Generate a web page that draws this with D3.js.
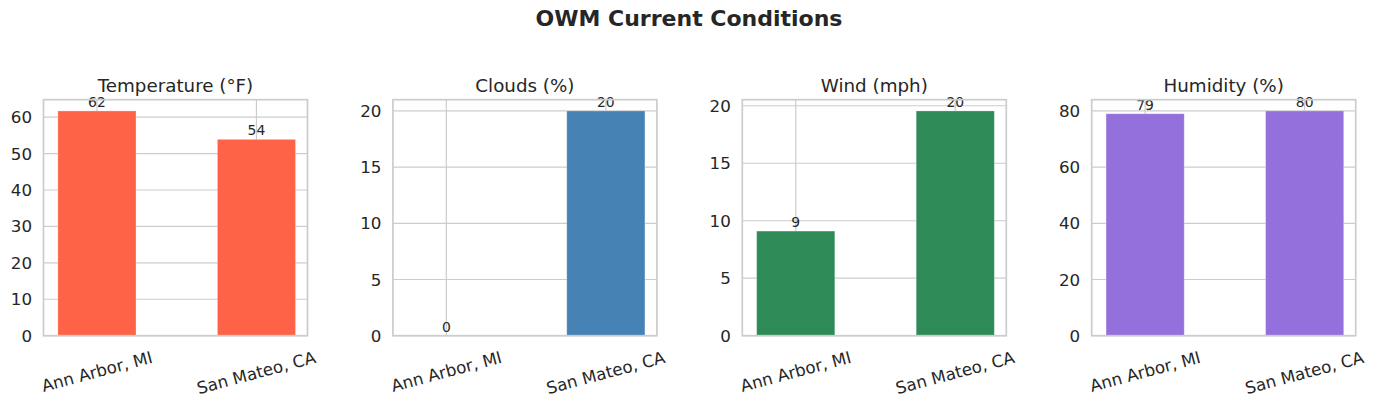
<!DOCTYPE html>
<html>
<head>
<meta charset="utf-8">
<script src="https://cdn.jsdelivr.net/npm/d3@7"></script>
<style>
  body { margin: 0; background: #fff; }
  svg text { font-family: "DejaVu Sans", sans-serif; fill: #262626; }
</style>
</head>
<body>
<svg id="chart" width="1374" height="408"></svg>
<script>
// ======== Data ========
const cities = ['Ann Arbor, MI', 'San Mateo, CA'];
const titles = ['Temperature (°F)', 'Clouds (%)', 'Wind (mph)', 'Humidity (%)'];
const temperature = [61.7, 53.9];
const clouds = [0, 20];
const wind = [9.1, 19.55];
const humidity = [79, 80];
const colors = ['tomato', 'steelblue', 'seagreen', 'mediumpurple'];
const ticks_temperature = [0, 10, 20, 30, 40, 50, 60];
const ticks_clouds = [0, 5, 10, 15, 20];
const ticks_wind = [0, 5, 10, 15, 20];
const ticks_humidity = [0, 20, 40, 60, 80];

const series = [temperature, clouds, wind, humidity];
const tick_sets = [ticks_temperature, ticks_clouds, ticks_wind, ticks_humidity];

// ======== Layout ========
const svg = d3.select('#chart');
const top_y = 99.7, bottom_y = 335.7, plot_w = 264;
const grid_color = '#cccccc';

svg.append('text')
    .attr('x', 689)
    .attr('y', 26)
    .attr('text-anchor', 'middle')
    .style('font-size', '22px')
    .style('font-weight', 'bold')
    .text('OWM Current Conditions');

series.forEach(function (values, i) {
    let left = 43.5 + i * 349.4;

    let x = d3.scaleLinear()
        .domain([-0.335, 1.32])
        .range([left, left + plot_w]);
    let y = d3.scaleLinear()
        .domain([0, d3.max(values) * 1.05])
        .range([bottom_y, top_y]);

    let g = svg.append('g');

    // grid (under bars)
    g.selectAll('.hgrid')
        .data(tick_sets[i])
        .enter()
        .append('line')
        .attr('x1', left).attr('x2', left + plot_w)
        .attr('y1', d => y(d)).attr('y2', d => y(d))
        .attr('stroke', grid_color)
        .attr('stroke-width', 1.2);
    g.selectAll('.vgrid')
        .data(cities)
        .enter()
        .append('line')
        .attr('x1', (d, j) => x(j)).attr('x2', (d, j) => x(j))
        .attr('y1', top_y).attr('y2', bottom_y)
        .attr('stroke', grid_color)
        .attr('stroke-width', 1.2);

    // bars
    let bw = 0.49;
    g.selectAll('.bar')
        .data(values)
        .enter()
        .append('rect')
        .attr('x', (d, j) => x(j - bw / 2))
        .attr('width', x(bw) - x(0))
        .attr('y', d => y(d))
        .attr('height', d => y(0) - y(d))
        .attr('fill', colors[i])
        .attr('stroke', 'rgba(255,255,255,0.35)')
        .attr('stroke-width', 0.8);

    // value labels
    g.selectAll('.val')
        .data(values)
        .enter()
        .append('text')
        .attr('x', (d, j) => x(j))
        .attr('y', d => y(d) - 4)
        .attr('text-anchor', 'middle')
        .style('font-size', '13.9px')
        .text(d => d3.format('.0f')(d));

    // frame
    g.append('rect')
        .attr('x', left).attr('y', top_y)
        .attr('width', plot_w).attr('height', bottom_y - top_y)
        .attr('fill', 'none')
        .attr('stroke', grid_color)
        .attr('stroke-width', 1.7);

    // y tick labels
    g.selectAll('.ytick')
        .data(tick_sets[i])
        .enter()
        .append('text')
        .attr('x', left - 11.5)
        .attr('y', d => y(d))
        .attr('dy', '0.36em')
        .attr('text-anchor', 'end')
        .style('font-size', '16.7px')
        .text(d => d);

    // x tick labels, rotated 15deg, bbox centred on the tick
    cities.forEach(function (c, j) {
        let lg = g.append('g');
        lg.append('text')
            .attr('text-anchor', 'middle')
            .attr('transform', 'rotate(-15)')
            .style('font-size', '16.7px')
            .text(c);
        let bb = lg.node().getBBox();
        lg.attr('transform', 'translate(' + (x(j) - (bb.x + bb.width / 2)) + ',' + (347 - bb.y) + ')');
    });

    // subplot title
    g.append('text')
        .attr('x', left + plot_w / 2)
        .attr('y', top_y - 7.5)
        .attr('text-anchor', 'middle')
        .style('font-size', '18.3px')
        .text(titles[i]);
});
</script>
</body>
</html>
